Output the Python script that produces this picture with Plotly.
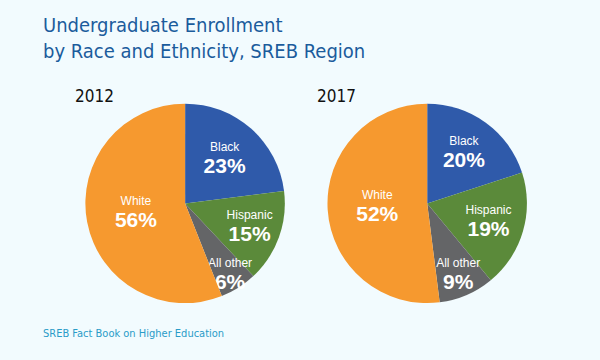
import plotly.graph_objects as go

groups = ["Black", "Hispanic", "All other", "White"]
values_2012 = [23, 15, 6, 56]
values_2017 = [20, 19, 9, 52]
years = ["2012", "2017"]
colors = ["#2f5aaa", "#5b8a3a", "#646567", "#f6992f"]

title_lines = ["Undergraduate Enrollment", "by Race and Ethnicity, SREB Region"]
source = "SREB Fact Book on Higher Education"

FONT = "DejaVu Sans Condensed, Liberation Sans, sans-serif"

fig = go.Figure()
domains = [[0.142, 0.475], [0.54, 0.884]]
for vals, dom in zip([values_2012, values_2017], domains):
    fig.add_trace(go.Pie(
        labels=groups, values=vals, sort=False, direction="clockwise", rotation=0,
        marker=dict(colors=colors, line=dict(width=0)),
        domain=dict(x=dom, y=[0.158, 0.712]),
        texttemplate=("<span style='font-size:12px'>%{label}</span><br>"
                      "<span style='font-size:21px'><b>%{value}%</b></span>"),
        textposition="inside", insidetextorientation="horizontal",
        insidetextfont=dict(color="white", size=17, family="Liberation Sans, Arial, sans-serif"),
        hoverinfo="label+percent", showlegend=False,
    ))

fig.add_annotation(x=0.068, y=0.97, xref="paper", yref="paper", xanchor="left", yanchor="top",
                   text="<br>".join(title_lines), showarrow=False, align="left",
                   font=dict(family=FONT, size=20, color="#1b5c9c"))
fig.add_annotation(x=0.122, y=0.733, xref="paper", yref="paper", xanchor="left", yanchor="middle",
                   text=years[0], showarrow=False, font=dict(family=FONT, size=17, color="#111111"))
fig.add_annotation(x=0.525, y=0.733, xref="paper", yref="paper", xanchor="left", yanchor="middle",
                   text=years[1], showarrow=False, font=dict(family=FONT, size=17, color="#111111"))
fig.add_annotation(x=0.068, y=0.075, xref="paper", yref="paper", xanchor="left", yanchor="middle",
                   text=source, showarrow=False, font=dict(family=FONT, size=11, color="#2a9cc8"))

fig.update_layout(width=600, height=360, margin=dict(l=0, r=0, t=0, b=0),
                  paper_bgcolor="#f2fbfe", plot_bgcolor="#f2fbfe",
                  uniformtext=dict(minsize=17, mode="show"))
fig.write_html("out.html", config={"displayModeBar": False},
               post_script="document.body.style.margin='0';document.body.style.background='#f2fbfe';")
